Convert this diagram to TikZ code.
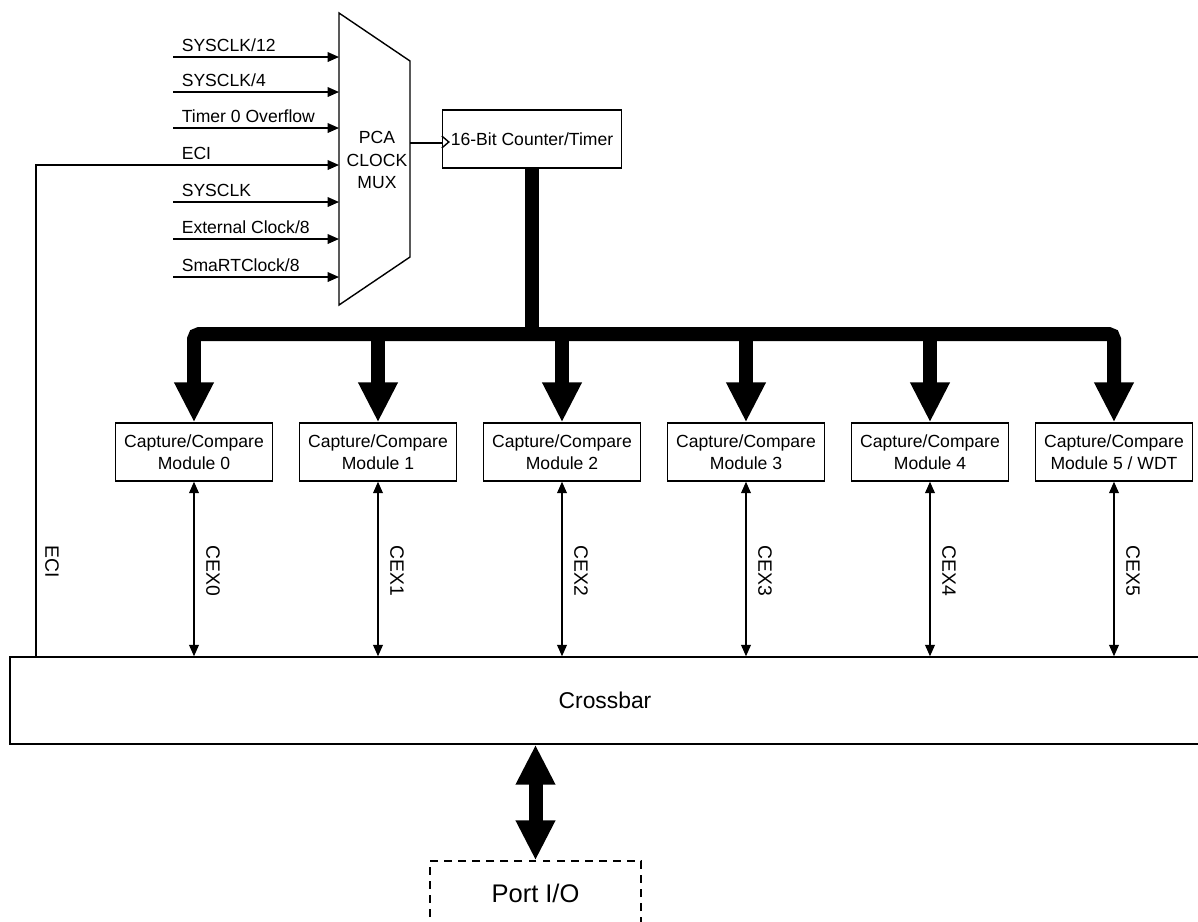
\documentclass[tikz,border=0pt]{standalone}
\usepackage{fontspec}
\setmainfont{Liberation Sans}
\usetikzlibrary{arrows.meta,positioning}

\begin{document}
\begin{tikzpicture}[x=0.02cm, y=-0.02cm,
  box/.style={rectangle, draw, line width=0.8pt, minimum width=3.14cm, minimum height=1.16cm, align=center, inner sep=1pt, font=\fontsize{10}{12.5}\selectfont},
  lbl/.style={inner sep=0pt, font=\fontsize{10}{12}\selectfont},
  vlbl/.style={inner sep=0pt, rotate=-90, anchor=west, font=\fontsize{11}{13}\selectfont},
  sig/.style={line width=0.9pt, >={Triangle[length=6.5pt,width=5.5pt]}, ->},
  bus/.style={line width=0.28cm, >={Triangle[length=0.8cm,width=0.74cm]}},
]
  \useasboundingbox (0,0) rectangle (1198,921);

  \draw[line width=0.8pt] (339,13) -- (410,61) -- (410,257) -- (339,305) -- cycle;
  \node[lbl, align=center, font=\fontsize{10}{13}\selectfont] (mux) at (377,160) {PCA\\CLOCK\\MUX};
  \coordinate (muxin) at (339,160);
  \coordinate (muxout) at (410,143);

  \node[box, minimum width=3.58cm] (ctr) at (532,139) {16-Bit Counter/Timer};
  \draw[line width=0.9pt] (muxout) -- (muxout -| ctr.west);
  \draw[line width=0.8pt] (ctr.west) ++(0,-3) -- ++(7,6) -- ++(-7,6);

  \coordinate (i1) at (173,57);
  \coordinate (i2) at (173,92);
  \coordinate (i3) at (173,128);
  \coordinate (i4) at (36,165);
  \coordinate (i5) at (173,202);
  \coordinate (i6) at (173,239);
  \coordinate (i7) at (173,277);
  \draw[sig] (i1) -- (i1 -| muxin) node[lbl, pos=0, anchor=base west, shift={(8,-6)}] {SYSCLK/12};
  \draw[sig] (i2) -- (i2 -| muxin) node[lbl, pos=0, anchor=base west, shift={(8,-6)}] {SYSCLK/4};
  \draw[sig] (i3) -- (i3 -| muxin) node[lbl, pos=0, anchor=base west, shift={(8,-6)}] {Timer 0 Overflow};
  \draw[sig] (i4 -| i1) -- (i4 -| muxin) node[lbl, pos=0, anchor=base west, shift={(8,-6)}] {ECI};
  \draw[sig] (i5) -- (i5 -| muxin) node[lbl, pos=0, anchor=base west, shift={(8,-6)}] {SYSCLK};
  \draw[sig] (i6) -- (i6 -| muxin) node[lbl, pos=0, anchor=base west, shift={(8,-6)}] {External Clock/8};
  \draw[sig] (i7) -- (i7 -| muxin) node[lbl, pos=0, anchor=base west, shift={(8,-6)}] {SmaRTClock/8};

  \node[box] (m0) at (194,452) {Capture/Compare\\Module 0};
  \node[box] (m1) at (378,452) {Capture/Compare\\Module 1};
  \node[box] (m2) at (562,452) {Capture/Compare\\Module 2};
  \node[box] (m3) at (746,452) {Capture/Compare\\Module 3};
  \node[box] (m4) at (930,452) {Capture/Compare\\Module 4};
  \node[box] (m5) at (1114,452) {Capture/Compare\\Module 5 / WDT};

  \coordinate (busy) at (0,334);
  \draw[bus] (ctr.south) -- (ctr.south |- busy);
  \draw[bus, <->, rounded corners=3pt] (m0.north) |- (ctr.south |- busy) -| (m5.north);
  \draw[bus, ->] (m1.north |- busy) -- (m1.north);
  \draw[bus, ->] (m2.north |- busy) -- (m2.north);
  \draw[bus, ->] (m3.north |- busy) -- (m3.north);
  \draw[bus, ->] (m4.north |- busy) -- (m4.north);

  \node[draw, line width=0.8pt, minimum width=23.8cm, minimum height=1.74cm, font=\fontsize{13}{15}\selectfont] (xbar) at (605,700.5) {Crossbar};

  \draw[sig, -] (i4 |- xbar.north) -- (i4) -- (i4 -| i1);
  \node[vlbl] (ecil) at (52,545) {ECI};

  \draw[sig, <->] (m0.south) -- (m0.south |- xbar.north);
  \draw[sig, <->] (m1.south) -- (m1.south |- xbar.north);
  \draw[sig, <->] (m2.south) -- (m2.south |- xbar.north);
  \draw[sig, <->] (m3.south) -- (m3.south |- xbar.north);
  \draw[sig, <->] (m4.south) -- (m4.south |- xbar.north);
  \draw[sig, <->] (m5.south) -- (m5.south |- xbar.north);
  \node[vlbl] (cex0) at (213,545) {CEX0};
  \node[vlbl] (cex1) at (397,545) {CEX1};
  \node[vlbl] (cex2) at (581,545) {CEX2};
  \node[vlbl] (cex3) at (765,545) {CEX3};
  \node[vlbl] (cex4) at (949,545) {CEX4};
  \node[vlbl] (cex5) at (1133,545) {CEX5};

  \node[draw, dashed, dash pattern=on 4.5pt off 3.5pt, line width=0.8pt, minimum width=4.22cm, minimum height=1.28cm, font=\fontsize{14.5}{16}\selectfont] (port) at (535.5,893) {Port I/O};
  \draw[bus, <->] (xbar.south -| port.north) -- (port.north);
\end{tikzpicture}
\end{document}
